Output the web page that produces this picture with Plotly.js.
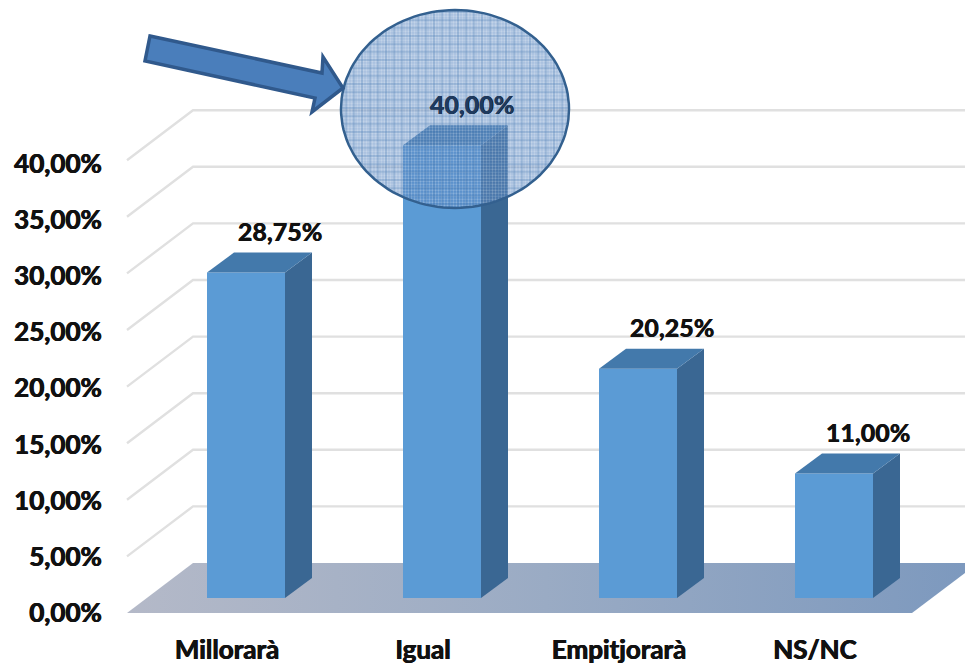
<!DOCTYPE html>
<html><head><meta charset="utf-8">
<script src="https://cdn.plot.ly/plotly-3.0.1.min.js"></script>
<style>html,body{margin:0;padding:0;background:#fff}</style></head>
<body><div id="chart" style="width:965px;height:665px"></div>
<script>
// ---- data ----
const categories = ["Millorarà", "Igual", "Empitjorarà", "NS/NC"];
const values = [28.75, 40, 20.25, 11];
const valueLabels = ["28,75%", "40,00%", "20,25%", "11,00%"];
const axisTicks = [0, 5, 10, 15, 20, 25, 30, 35, 40];
const axisTickLabels = ["0,00%", "5,00%", "10,00%", "15,00%", "20,00%", "25,00%", "30,00%", "35,00%", "40,00%"];
const gridValues = [5, 10, 15, 20, 25, 30, 35, 40];

// ---- scale set-up (pixels of the page <-> axis units) ----
const W = 965, H = 665, L = 110, B = 625;
const pxPerCat = 196, firstBarPx = 246, pxPerPct = 11.32, zeroPx = 598;
const X = px => (px - firstBarPx) / pxPerCat;
const Y = py => (zeroPx - py) / pxPerPct;
const xRange = [X(L), X(W)], yRange = [Y(B), Y(0)];
const barW = 78 / pxPerCat, depthX = 27 / pxPerCat, depthY = 20 / pxPerPct;
const tickShift = 15 / pxPerPct, catLabelShift = 19 / pxPerCat;
const idx = categories.map((_, i) => i);
const FONT = "Lato, Carlito, 'Open Sans', sans-serif";
const HEAVY = '0.5px 0 0 #111, -0.4px 0 0 #111';

const traces = [];
// grid (front wall edge -> back wall -> right)
gridValues.forEach(v => {
  traces.push({type:'scatter', mode:'lines', hoverinfo:'skip', showlegend:false,
    x:[X(127), X(193), X(W)],
    y:[Y(613) + v, Y(563) + v, Y(563) + v],
    line:{color:'#E0E0E0', width:2.4}});
});
// floor
traces.push({type:'scatter', mode:'lines', fill:'toself', hoverinfo:'skip', showlegend:false,
  x:[X(127), X(193), X(W), X(W), X(912), X(127)],
  y:[Y(613), Y(563), Y(563), Y(573), Y(613), Y(613)],
  line:{width:0, color:'rgba(0,0,0,0)'},
  fillcolor:'#97A9C3',
  fillgradient:{type:'horizontal', colorscale:[[0,'#B4B9C8'],[0.5,'#9AABC4'],[1,'#7D99BE']]}});
// bars (on the overlay axes so they sit above the floor)
traces.push({type:'bar', x:idx, y:values, width:barW, xaxis:'x2', yaxis:'y2', hoverinfo:'skip', showlegend:false,
  marker:{color:'#5B9BD5', line:{width:0}}});
idx.forEach(i => {
  const v = values[i], l = i - barW / 2, r = i + barW / 2;
  traces.push({type:'scatter', mode:'lines', fill:'toself', xaxis:'x2', yaxis:'y2', hoverinfo:'skip', showlegend:false,
    x:[r, r + depthX, r + depthX, r, r], y:[0, depthY, v + depthY, v, 0],
    line:{width:0, color:'#3A6793'}, fillcolor:'#3A6793'});
  traces.push({type:'scatter', mode:'lines', fill:'toself', xaxis:'x2', yaxis:'y2', hoverinfo:'skip', showlegend:false,
    x:[l, r, r + depthX, l + depthX, l], y:[v, v, v + depthY, v + depthY, v],
    line:{width:0, color:'#4379AB'}, fillcolor:'#4379AB'});
});
// highlight ellipse (annotation, not data): fine dots + coarse grid
const ex = [], ey = [];
for (let k = 0; k <= 120; k++) {
  const a = k / 120 * 2 * Math.PI;
  ex.push(X(455 + 114 * Math.cos(a)));
  ey.push(Y(109 + 99 * Math.sin(a)));
}
traces.push({type:'scatter', mode:'lines', fill:'toself', xaxis:'x2', yaxis:'y2', hoverinfo:'skip', showlegend:false,
  x:ex, y:ey, line:{color:'rgba(0,0,0,0)', width:0}, fillcolor:'rgba(120,160,210,0.5)',
  fillpattern:{shape:'.', size:3, solidity:0.45, fgcolor:'#FFFFFF', fgopacity:0.3, bgcolor:'rgba(80,128,190,0.5)', fillmode:'replace'}});
traces.push({type:'scatter', mode:'lines', fill:'toself', xaxis:'x2', yaxis:'y2', hoverinfo:'skip', showlegend:false,
  x:ex, y:ey, line:{color:'#33608F', width:2.5}, fillcolor:'rgba(0,0,0,0)',
  fillpattern:{shape:'+', size:8, solidity:0.14, fgcolor:'#3F72AE', fgopacity:0.7, bgcolor:'rgba(0,0,0,0)', fillmode:'replace'}});
// value labels
const labelLift = 38 / pxPerPct, labelRight = 34 / pxPerCat;
traces.push({type:'scatter', mode:'text', xaxis:'x2', yaxis:'y2', hoverinfo:'skip', showlegend:false,
  x:idx.map(i => i + labelRight - (values[i] === 40 ? 4 / pxPerCat : 0)),
  y:values.map(v => v + labelLift - (v === 40 ? 1 / pxPerPct : 0)),
  text:valueLabels, textposition:'middle center',
  textfont:{family:FONT, size:25, color:values.map(v => v === 40 ? '#1E3A5F' : '#111'), weight:900, shadow:'0.3px 0 0 #111'}});

// arrow
const arrowPts = [[150,36],[322,73],[323,57],[343,88],[312,112],[315,98],[145,61]];
const arrowPath = 'M' + arrowPts.map(p => X(p[0]) + ',' + Y(p[1])).join('L') + 'Z';

const tickFont = {family:FONT, size:26, color:'#111', weight:700, shadow:HEAVY};
const layout = {
  width:W, height:H, margin:{l:L, r:0, t:0, b:H - B, pad:0},
  paper_bgcolor:'#fff', plot_bgcolor:'#fff', showlegend:false, barmode:'overlay',
  font:{family:FONT, color:'#111'},
  xaxis:{range:xRange, fixedrange:true, showgrid:false, zeroline:false, showline:false,
    tickmode:'array', tickvals:idx.map(i => i - catLabelShift), ticktext:categories,
    ticks:'outside', ticklen:2, tickcolor:'rgba(0,0,0,0)', automargin:false,
    tickfont:tickFont},
  yaxis:{range:yRange, fixedrange:true, showgrid:false, zeroline:false, showline:false,
    tickmode:'array', tickvals:axisTicks.map(v => v * (56.2 / 5 / pxPerPct) - tickShift), ticktext:axisTickLabels,
    ticks:'outside', ticklen:2, tickcolor:'rgba(0,0,0,0)', automargin:false,
    tickfont:tickFont},
  xaxis2:{range:xRange, overlaying:'x', visible:false, fixedrange:true},
  yaxis2:{range:yRange, overlaying:'y', visible:false, fixedrange:true},
  shapes:[{type:'path', xref:'x2', yref:'y2', layer:'above', path:arrowPath,
    fillcolor:'#4A7EBB', line:{color:'#30598C', width:3.5}}]
};
Plotly.newPlot('chart', traces, layout, {displayModeBar:false, staticPlot:true});
</script></body></html>
